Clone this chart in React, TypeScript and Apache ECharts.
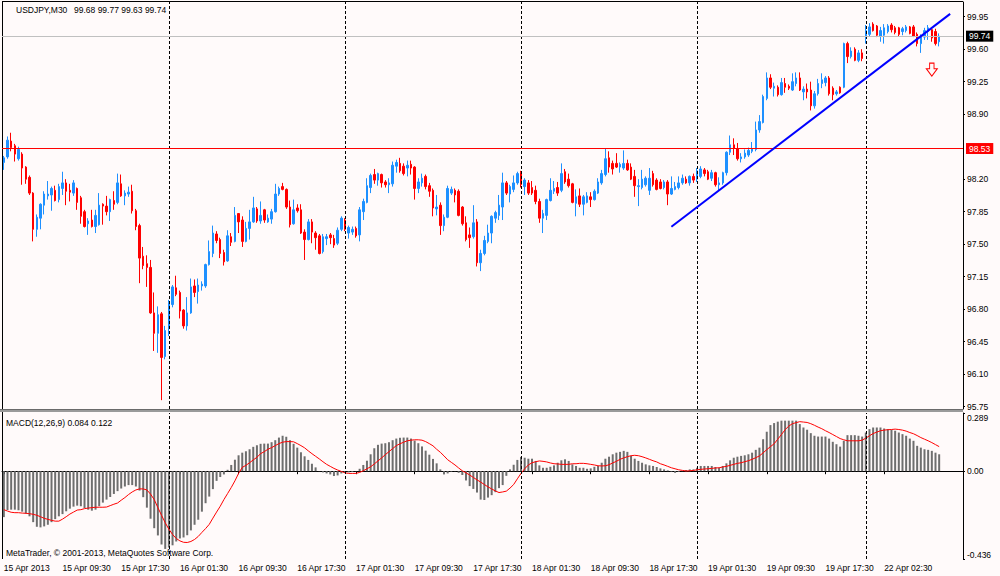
import React, { useEffect, useRef } from "react";
import * as echarts from "echarts";

// [open, high, low, close]
type OHLC = [number, number, number, number];

const SYMBOL = "USDJPY,M30";

const apr15: OHLC[] = [
  [98.38, 98.45, 98.30, 98.43], [98.44, 98.66, 98.42, 98.62], [98.61, 98.70, 98.50, 98.54], [98.56, 98.58, 98.39, 98.47],
  [98.42, 98.55, 98.40, 98.52], [98.47, 98.49, 98.14, 98.32], [98.33, 98.34, 98.15, 98.20], [98.22, 98.24, 98.03, 98.05],
  [98.05, 98.06, 97.53, 97.66], [97.66, 97.82, 97.58, 97.79], [97.78, 97.94, 97.66, 97.93], [97.92, 98.07, 97.82, 98.04],
  [98.02, 98.18, 97.98, 98.04], [98.03, 98.12, 97.86, 98.10], [98.08, 98.13, 97.96, 97.97], [97.98, 98.15, 97.95, 98.12],
  [98.10, 98.28, 98.03, 98.16], [98.16, 98.20, 97.92, 98.07], [98.08, 98.15, 97.96, 98.06], [98.05, 98.19, 98.02, 98.16],
  [98.10, 98.11, 97.87, 97.95], [98.00, 98.02, 97.72, 97.80], [97.85, 97.87, 97.68, 97.69], [97.72, 97.78, 97.60, 97.75],
  [97.76, 97.87, 97.68, 97.69], [97.69, 97.87, 97.62, 97.81], [97.71, 98.05, 97.70, 97.92], [97.93, 97.94, 97.71, 97.91],
  [97.91, 98.02, 97.81, 97.85], [97.85, 97.99, 97.75, 97.98], [97.97, 98.07, 97.87, 97.93], [97.95, 98.26, 97.93, 98.16],
  [98.15, 98.25, 98.01, 98.02], [98.02, 98.08, 97.92, 98.05], [98.04, 98.12, 98.01, 98.06], [98.07, 98.14, 97.83, 97.86],
  [97.86, 97.88, 97.65, 97.69], [97.70, 97.72, 97.08, 97.35], [97.37, 97.47, 97.23, 97.27], [97.29, 97.38, 97.04, 97.25],
  [97.25, 97.33, 96.75, 96.76], [96.76, 96.98, 96.35, 96.54], [96.54, 96.83, 96.33, 96.74], [96.75, 96.77, 95.82, 96.28],
  [96.29, 96.62, 96.26, 96.57],
];

const apr16: OHLC[] = [
  [96.59, 96.90, 96.51, 96.87], [96.85, 97.06, 96.82, 97.04], [97.03, 97.16, 96.94, 96.96], [96.98, 97.00, 96.70, 96.78],
  [96.79, 96.80, 96.59, 96.62], [96.62, 96.93, 96.57, 96.76], [96.76, 97.13, 96.75, 97.04], [97.05, 97.12, 96.93, 96.98],
  [96.99, 97.13, 96.86, 97.06], [97.05, 97.10, 97.00, 97.07], [97.05, 97.29, 97.03, 97.28], [97.28, 97.54, 97.27, 97.42],
  [97.40, 97.70, 97.36, 97.62], [97.61, 97.64, 97.51, 97.54], [97.55, 97.57, 97.35, 97.40], [97.41, 97.44, 97.27, 97.31],
  [97.32, 97.65, 97.31, 97.59], [97.58, 97.62, 97.48, 97.52], [97.53, 97.90, 97.52, 97.81], [97.83, 97.83, 97.62, 97.74],
  [97.76, 97.80, 97.47, 97.53], [97.53, 97.74, 97.52, 97.67], [97.67, 97.87, 97.55, 97.74], [97.74, 98.01, 97.73, 97.89],
  [97.88, 97.90, 97.73, 97.75], [97.75, 97.96, 97.72, 97.81], [97.87, 97.88, 97.73, 97.76], [97.74, 97.82, 97.73, 97.78],
  [97.77, 97.88, 97.72, 97.85], [97.85, 98.15, 97.84, 98.04], [98.04, 98.12, 98.02, 98.10], [98.12, 98.16, 98.08, 98.09],
  [98.09, 98.10, 97.88, 97.90], [97.90, 97.97, 97.68, 97.71], [97.72, 97.98, 97.71, 97.87], [97.89, 97.93, 97.84, 97.86],
  [97.87, 97.93, 97.61, 97.62], [97.63, 97.66, 97.33, 97.55], [97.55, 97.77, 97.54, 97.74], [97.74, 97.77, 97.51, 97.63],
  [97.62, 97.64, 97.44, 97.57], [97.59, 97.61, 97.39, 97.40], [97.42, 97.61, 97.40, 97.58], [97.56, 97.61, 97.49, 97.58],
  [97.60, 97.62, 97.50, 97.57], [97.56, 97.60, 97.46, 97.49], [97.51, 97.68, 97.49, 97.65], [97.66, 97.80, 97.64, 97.78],
];

const apr17: OHLC[] = [
  [97.76, 97.78, 97.64, 97.66], [97.62, 97.70, 97.56, 97.68], [97.63, 97.69, 97.60, 97.66], [97.67, 97.69, 97.57, 97.59],
  [97.60, 97.90, 97.53, 97.87], [97.85, 97.99, 97.76, 97.96], [97.95, 98.21, 97.94, 98.13], [98.11, 98.26, 98.05, 98.24],
  [98.25, 98.31, 98.15, 98.19], [98.19, 98.27, 98.13, 98.26], [98.25, 98.26, 98.11, 98.16], [98.17, 98.19, 98.11, 98.14],
  [98.14, 98.21, 98.05, 98.16], [98.15, 98.39, 98.12, 98.35], [98.34, 98.41, 98.27, 98.38], [98.37, 98.43, 98.27, 98.29],
  [98.34, 98.37, 98.24, 98.26], [98.32, 98.40, 98.23, 98.35], [98.36, 98.40, 98.25, 98.32], [98.33, 98.34, 97.98, 98.10],
  [98.10, 98.21, 98.05, 98.17], [98.16, 98.26, 98.12, 98.21], [98.23, 98.25, 98.09, 98.12], [98.13, 98.16, 98.01, 98.07],
  [98.08, 98.10, 97.80, 97.89], [97.88, 98.03, 97.81, 97.90], [97.92, 97.95, 97.60, 97.70], [97.70, 97.82, 97.64, 97.79],
  [97.79, 98.13, 97.78, 98.10], [98.05, 98.12, 98.03, 98.09], [98.08, 98.10, 97.95, 98.03], [98.07, 98.09, 97.80, 97.81],
  [97.90, 97.91, 97.70, 97.72], [97.73, 97.80, 97.53, 97.55], [97.60, 97.68, 97.46, 97.57], [97.58, 97.92, 97.56, 97.73],
  [97.74, 97.77, 97.26, 97.30], [97.30, 97.44, 97.21, 97.40], [97.40, 97.59, 97.38, 97.54], [97.53, 97.71, 97.51, 97.62],
  [97.62, 97.81, 97.51, 97.80], [97.78, 97.86, 97.73, 97.84], [97.81, 98.03, 97.76, 97.92], [97.90, 98.27, 97.76, 98.16],
  [98.16, 98.18, 98.03, 98.05], [98.04, 98.14, 97.95, 98.12], [98.09, 98.24, 98.06, 98.16], [98.16, 98.28, 98.14, 98.26],
];

const apr18: OHLC[] = [
  [98.27, 98.29, 98.11, 98.14], [98.12, 98.21, 98.03, 98.19], [98.16, 98.19, 98.03, 98.05], [98.11, 98.18, 98.03, 98.05],
  [98.08, 98.13, 97.93, 97.96], [97.96, 97.99, 97.73, 97.78], [97.78, 97.87, 97.62, 97.83], [97.81, 97.99, 97.76, 97.98],
  [97.97, 98.21, 97.96, 98.08], [98.07, 98.18, 98.04, 98.10], [98.11, 98.17, 98.02, 98.05], [98.08, 98.37, 98.06, 98.26],
  [98.28, 98.31, 98.15, 98.17], [98.20, 98.26, 98.11, 98.13], [98.15, 98.16, 97.94, 97.95], [97.94, 98.09, 97.80, 98.01],
  [98.02, 98.10, 97.90, 97.93], [97.93, 98.03, 97.81, 98.01], [97.95, 98.06, 97.94, 98.02], [98.01, 98.06, 97.90, 97.98],
  [97.98, 98.09, 97.97, 98.07], [98.05, 98.21, 98.04, 98.17], [98.16, 98.30, 98.14, 98.26], [98.25, 98.53, 98.23, 98.42],
  [98.43, 98.50, 98.27, 98.33], [98.37, 98.40, 98.25, 98.31], [98.37, 98.48, 98.32, 98.33], [98.33, 98.38, 98.27, 98.36],
  [98.32, 98.51, 98.30, 98.37], [98.37, 98.41, 98.29, 98.30], [98.33, 98.37, 98.19, 98.20], [98.23, 98.30, 98.01, 98.13],
  [98.12, 98.20, 97.91, 98.13], [98.11, 98.30, 98.09, 98.20], [98.14, 98.23, 98.12, 98.21], [98.08, 98.32, 98.03, 98.21],
  [98.26, 98.29, 98.12, 98.14], [98.19, 98.21, 98.08, 98.09], [98.17, 98.20, 98.09, 98.10], [98.11, 98.19, 98.09, 98.17],
  [98.17, 98.19, 97.92, 98.04], [98.04, 98.23, 98.03, 98.10], [98.09, 98.17, 98.08, 98.12], [98.11, 98.23, 98.09, 98.16],
  [98.16, 98.25, 98.14, 98.21], [98.20, 98.23, 98.15, 98.16], [98.16, 98.24, 98.13, 98.23], [98.23, 98.26, 98.16, 98.19],
];

const apr19: OHLC[] = [
  [98.20, 98.32, 98.17, 98.29], [98.23, 98.34, 98.21, 98.31], [98.30, 98.32, 98.23, 98.26], [98.28, 98.30, 98.19, 98.20],
  [98.21, 98.30, 98.18, 98.27], [98.27, 98.28, 98.12, 98.14], [98.14, 98.22, 98.08, 98.16], [98.16, 98.28, 98.14, 98.27],
  [98.27, 98.50, 98.24, 98.49], [98.49, 98.67, 98.46, 98.57], [98.57, 98.64, 98.46, 98.53], [98.53, 98.59, 98.40, 98.42],
  [98.42, 98.48, 98.38, 98.44], [98.44, 98.52, 98.42, 98.48], [98.46, 98.54, 98.44, 98.51], [98.50, 98.60, 98.48, 98.53],
  [98.52, 98.82, 98.50, 98.73], [98.73, 98.89, 98.70, 98.82], [98.81, 99.11, 98.80, 99.09], [99.07, 99.35, 99.05, 99.29],
  [99.29, 99.33, 99.17, 99.19], [99.18, 99.24, 99.09, 99.20], [99.19, 99.21, 99.09, 99.11], [99.11, 99.29, 99.10, 99.24],
  [99.23, 99.29, 99.13, 99.19], [99.20, 99.22, 99.16, 99.18], [99.16, 99.34, 99.15, 99.25], [99.23, 99.35, 99.20, 99.29],
  [99.29, 99.35, 99.15, 99.16], [99.14, 99.20, 99.05, 99.17], [99.17, 99.23, 99.07, 99.14], [99.16, 99.25, 98.94, 98.99],
  [98.99, 99.15, 98.96, 99.12], [99.12, 99.28, 99.10, 99.23], [99.23, 99.34, 99.18, 99.27], [99.24, 99.31, 99.20, 99.29],
  [99.29, 99.31, 99.10, 99.12], [99.18, 99.20, 99.05, 99.11], [99.12, 99.16, 99.10, 99.14], [99.19, 99.20, 99.12, 99.13],
  [99.19, 99.67, 99.18, 99.66], [99.66, 99.68, 99.45, 99.52], [99.52, 99.62, 99.50, 99.58], [99.60, 99.62, 99.47, 99.48],
  [99.48, 99.59, 99.46, 99.56], [99.56, 99.60, 99.47, 99.50],
];

const apr22: OHLC[] = [
  [99.72, 99.86, 99.66, 99.80], [99.76, 99.88, 99.74, 99.84], [99.87, 99.89, 99.79, 99.80], [99.85, 99.86, 99.73, 99.75],
  [99.74, 99.84, 99.68, 99.80], [99.75, 99.87, 99.66, 99.83], [99.79, 99.87, 99.77, 99.85], [99.86, 99.88, 99.78, 99.81],
  [99.83, 99.85, 99.76, 99.78], [99.83, 99.84, 99.74, 99.76], [99.79, 99.84, 99.75, 99.82], [99.80, 99.86, 99.78, 99.84],
  [99.84, 99.85, 99.76, 99.77], [99.84, 99.86, 99.73, 99.74], [99.76, 99.78, 99.63, 99.66], [99.66, 99.76, 99.56, 99.74],
  [99.73, 99.83, 99.70, 99.80], [99.79, 99.86, 99.70, 99.83], [99.81, 99.83, 99.68, 99.72], [99.79, 99.82, 99.64, 99.66],
  [99.68, 99.77, 99.63, 99.74],
];

// MACD(12,26,9): main (histogram) and signal, read per bar
const macdMain: number[] = [
  -0.228, -0.193, -0.191, -0.191, -0.194, -0.201, -0.211, -0.224, -0.253, -0.276,
  -0.279, -0.274, -0.266, -0.253, -0.238, -0.224, -0.213, -0.199, -0.186, -0.176,
  -0.171, -0.174, -0.183, -0.191, -0.196, -0.191, -0.174, -0.156, -0.141, -0.128,
  -0.113, -0.099, -0.086, -0.076, -0.069, -0.069, -0.076, -0.096, -0.129, -0.181,
  -0.236, -0.283, -0.319, -0.364, -0.386,
  -0.379, -0.368, -0.349, -0.334, -0.329, -0.318, -0.294, -0.266, -0.241, -0.201,
  -0.159, -0.126, -0.089, -0.048, -0.029, -0.016, 0.007, 0.031, 0.057, 0.079,
  0.092, 0.099, 0.109, 0.121, 0.129, 0.136, 0.137, 0.137, 0.144, 0.154,
  0.167, 0.176, 0.171, 0.154, 0.136, 0.117, 0.094, 0.074, 0.056, 0.037,
  0.019, 0.001, -0.006, -0.011, -0.016, -0.024, -0.021, -0.011,
  -0.008, -0.006, -0.004, -0.001, 0.012, 0.031, 0.052, 0.084, 0.114, 0.131,
  0.137, 0.139, 0.144, 0.154, 0.162, 0.166, 0.167, 0.167, 0.162, 0.152,
  0.139, 0.123, 0.102, 0.082, 0.061, 0.039, 0.009, -0.016, -0.011, -0.003,
  -0.001, -0.008, -0.019, -0.046, -0.074, -0.088, -0.106, -0.141, -0.143, -0.131,
  -0.119, -0.104, -0.084, -0.069, -0.023, 0.009, 0.032, 0.056,
  0.071, 0.067, 0.062, 0.062, 0.051, 0.029, 0.017, 0.017, 0.022, 0.029,
  0.042, 0.054, 0.059, 0.051, 0.034, 0.026, 0.017, 0.017, 0.012, 0.014,
  0.022, 0.026, 0.042, 0.062, 0.072, 0.084, 0.092, 0.096, 0.101, 0.096,
  0.076, 0.062, 0.051, 0.042, 0.034, 0.029, 0.026, 0.021, 0.014, 0.009,
  0.004, -0.003, -0.008, -0.004, 0.001, 0.006, 0.009, 0.009,
  0.017, 0.026, 0.026, 0.026, 0.026, 0.021, 0.017, 0.026, 0.039, 0.054,
  0.067, 0.072, 0.076, 0.079, 0.084, 0.092, 0.106, 0.117, 0.159, 0.196,
  0.229, 0.239, 0.246, 0.251, 0.251, 0.251, 0.251, 0.251, 0.234, 0.217,
  0.206, 0.189, 0.176, 0.172, 0.172, 0.172, 0.162, 0.146, 0.134, 0.122,
  0.151, 0.179, 0.179, 0.179, 0.176, 0.172,
  0.192, 0.209, 0.217, 0.217, 0.217, 0.212, 0.209, 0.206, 0.201, 0.192,
  0.184, 0.176, 0.162, 0.151, 0.126, 0.117, 0.109, 0.106, 0.101, 0.092, 0.084,
];

const macdSignal: number[] = [
  -0.191, -0.198, -0.204, -0.206, -0.206, -0.208, -0.209, -0.211, -0.214, -0.219,
  -0.226, -0.234, -0.239, -0.244, -0.248, -0.248, -0.238, -0.226, -0.213, -0.203,
  -0.193, -0.191, -0.186, -0.183, -0.181, -0.179, -0.179, -0.179, -0.178, -0.171,
  -0.164, -0.158, -0.144, -0.131, -0.116, -0.103, -0.093, -0.088, -0.088, -0.093,
  -0.114, -0.141, -0.181, -0.219, -0.256,
  -0.288, -0.314, -0.334, -0.346, -0.353, -0.354, -0.349, -0.339, -0.324, -0.304,
  -0.285, -0.264, -0.233, -0.203, -0.174, -0.141, -0.111, -0.081, -0.048, -0.011,
  0.019, 0.029, 0.042, 0.056, 0.069, 0.087, 0.097, 0.109, 0.117, 0.127,
  0.137, 0.144, 0.147, 0.147, 0.146, 0.137, 0.127, 0.116, 0.101, 0.087,
  0.074, 0.061, 0.047, 0.034, 0.024, 0.014, 0.006, -0.001,
  -0.008, -0.011, -0.011, -0.011, -0.006, 0.002, 0.012, 0.022, 0.036, 0.051,
  0.066, 0.082, 0.097, 0.112, 0.127, 0.136, 0.144, 0.151, 0.154, 0.156,
  0.156, 0.154, 0.147, 0.137, 0.126, 0.109, 0.094, 0.076, 0.057, 0.044,
  0.031, 0.016, 0.002, -0.008, -0.019, -0.031, -0.043, -0.054, -0.066, -0.078,
  -0.088, -0.098, -0.106, -0.103, -0.099, -0.084, -0.066, -0.038,
  -0.011, 0.012, 0.031, 0.042, 0.047, 0.051, 0.049, 0.046, 0.041, 0.037,
  0.036, 0.034, 0.034, 0.034, 0.037, 0.037, 0.039, 0.039, 0.037, 0.034,
  0.031, 0.027, 0.026, 0.027, 0.032, 0.041, 0.049, 0.059, 0.066, 0.072,
  0.077, 0.079, 0.077, 0.072, 0.066, 0.059, 0.052, 0.046, 0.037, 0.031,
  0.024, 0.017, 0.012, 0.007, 0.004, 0.001, 0.002, 0.004,
  0.007, 0.009, 0.011, 0.012, 0.014, 0.016, 0.017, 0.021, 0.024, 0.029,
  0.034, 0.039, 0.042, 0.047, 0.052, 0.059, 0.067, 0.076, 0.091, 0.107,
  0.122, 0.136, 0.159, 0.182, 0.206, 0.224, 0.236, 0.241, 0.246, 0.244,
  0.242, 0.236, 0.228, 0.219, 0.211, 0.201, 0.192, 0.182, 0.172, 0.162,
  0.156, 0.151, 0.151, 0.151, 0.151, 0.154,
  0.164, 0.176, 0.187, 0.194, 0.201, 0.204, 0.206, 0.207, 0.209, 0.207,
  0.204, 0.199, 0.192, 0.186, 0.177, 0.167, 0.159, 0.151, 0.142, 0.132, 0.122,
];

const TICK_LABELS = [
  "15 Apr 2013", "15 Apr 09:30", "15 Apr 17:30", "16 Apr 01:30", "16 Apr 09:30", "16 Apr 17:30",
  "17 Apr 01:30", "17 Apr 09:30", "17 Apr 17:30", "18 Apr 01:30", "18 Apr 09:30", "18 Apr 17:30",
  "19 Apr 01:30", "19 Apr 09:30", "19 Apr 17:30", "22 Apr 02:30",
];
const TICK_STEP = 16; // bars between time labels
const DAY_BREAKS = [45, 93, 141, 189, 235]; // bar index of each new day
const PRICE_TICKS = [95.75, 96.10, 96.45, 96.80, 97.15, 97.50, 97.85, 98.20, 98.90, 99.25, 99.60, 99.95];
const MACD_TICKS = [-0.436, 0, 0.289];
const LEVEL_LINE = 98.53;
const TREND_LINE: [number, number][] = [[182, 97.687], [258, 99.98]];
const ARROW_POINT: [number, number] = [253, 99.38];
const SLOT_COUNT = 262; // visible bar slots incl. right shift

const FONT = "'Liberation Sans', Arial, sans-serif";

export default function App() {
  const ref = useRef<HTMLDivElement | null>(null);

  useEffect(() => {
    if (!ref.current) return;
    const chart = echarts.init(ref.current, undefined, { renderer: "svg" });

    const candles = [...apr15, ...apr16, ...apr17, ...apr18, ...apr19, ...apr22];
    const candleData = candles.map(([o, h, l, c]) => [o, c, l, h]);
    const last = candles[candles.length - 1];
    const bid = last[3];
    const cats = Array.from({ length: SLOT_COUNT }, (_, i) => String(i));
    const showTick = (i: number) => i % TICK_STEP === 0 && i / TICK_STEP < TICK_LABELS.length;

    const sepLine = { color: "#000", type: [3, 2] as number[], width: 1 };
    const fmt2 = (v: number) => v.toFixed(2);

    const option: any = {
      animation: false,
      backgroundColor: "#FFFAFA",
      textStyle: { fontFamily: FONT, fontSize: 8.5, color: "#000" },
      grid: [
        { left: 2, top: 2, width: 961, height: 407 },
        { left: 2, top: 413, width: 961, height: 146 },
      ],
      xAxis: [
        { type: "category", gridIndex: 0, data: cats, boundaryGap: true, show: false },
        {
          type: "category",
          gridIndex: 1,
          data: cats,
          boundaryGap: true,
          axisLine: { show: true, lineStyle: { color: "#000", width: 1 } },
          axisTick: {
            show: true,
            alignWithLabel: true,
            interval: (i: number) => showTick(i),
            length: 3,
            lineStyle: { color: "#000" },
          },
          axisLabel: {
            interval: (i: number) => showTick(i),
            formatter: (v: string) => TICK_LABELS[Number(v) / TICK_STEP] ?? "",
            align: "left",
            margin: 4,
            color: "#000",
            fontSize: 8.5,
            fontFamily: FONT,
          },
          splitLine: { show: false },
        },
      ],
      yAxis: [
        {
          type: "value",
          gridIndex: 0,
          position: "right",
          min: 95.725,
          max: 100.108,
          axisLine: { show: true, lineStyle: { color: "#000", width: 1 } },
          axisTick: { show: true, length: 2, customValues: PRICE_TICKS, lineStyle: { color: "#000" } },
          axisLabel: {
            customValues: PRICE_TICKS,
            formatter: fmt2,
            margin: 4,
            color: "#000",
            fontSize: 8.5,
            fontFamily: FONT,
          },
          splitLine: { show: false },
        },
        {
          type: "value",
          gridIndex: 1,
          position: "right",
          min: -0.436,
          max: 0.289,
          axisLine: { show: true, lineStyle: { color: "#000", width: 1 } },
          axisTick: { show: true, length: 2, customValues: MACD_TICKS, lineStyle: { color: "#000" } },
          axisLabel: {
            customValues: MACD_TICKS,
            formatter: (v: number) => (Math.abs(v) < 1e-9 ? "0.00" : v.toFixed(3)),
            margin: 4,
            color: "#000",
            fontSize: 8.5,
            fontFamily: FONT,
            verticalAlignMinLabel: "bottom",
            verticalAlignMaxLabel: "top",
          },
          splitLine: { show: false },
        },
      ],
      series: [
        {
          type: "candlestick",
          xAxisIndex: 0,
          yAxisIndex: 0,
          data: candleData,
          barWidth: 2,
          clip: false,
          itemStyle: {
            color: "#1E90FF",
            color0: "#FF0000",
            borderColor: "#1E90FF",
            borderColor0: "#FF0000",
            borderWidth: 1,
          },
          markLine: {
            silent: true,
            symbol: ["none", "none"],
            animation: false,
            data: [
              ...DAY_BREAKS.map((x) => ({ xAxis: x, lineStyle: sepLine, label: { show: false } })),
              {
                yAxis: bid,
                lineStyle: { color: "#C0C0C0", type: "solid", width: 1 },
                label: {
                  show: true,
                  position: "end",
                  distance: 3,
                  formatter: fmt2(bid),
                  color: "#fff",
                  backgroundColor: "#000",
                  padding: [1, 3, 1, 3],
                  fontSize: 8.5,
                  fontFamily: FONT,
                },
              },
              {
                yAxis: LEVEL_LINE,
                lineStyle: { color: "#FF0000", type: "solid", width: 1 },
                label: {
                  show: true,
                  position: "end",
                  distance: 3,
                  formatter: fmt2(LEVEL_LINE),
                  color: "#fff",
                  backgroundColor: "#FF0000",
                  padding: [1, 3, 1, 3],
                  fontSize: 8.5,
                  fontFamily: FONT,
                },
              },
              [
                { coord: TREND_LINE[0], lineStyle: { color: "#0000FF", type: "solid", width: 2 }, label: { show: false } },
                { coord: TREND_LINE[1] },
              ],
            ],
          },
          markPoint: {
            silent: true,
            animation: false,
            data: [
              {
                coord: ARROW_POINT,
                symbol: "path://M3.3,0 L7.7,0 L7.7,5.6 L11,5.6 L5.5,13 L0,5.6 L3.3,5.6 Z",
                symbolSize: [11, 13],
                itemStyle: { color: "#FFFAFA", borderColor: "#FF0000", borderWidth: 1 },
                label: { show: false },
              },
            ],
          },
        },
        {
          type: "bar",
          xAxisIndex: 1,
          yAxisIndex: 1,
          data: macdMain,
          barWidth: 2,
          itemStyle: { color: "#6E6E6E" },
          markLine: {
            silent: true,
            symbol: ["none", "none"],
            animation: false,
            data: DAY_BREAKS.map((x) => ({ xAxis: x, lineStyle: sepLine, label: { show: false } })),
          },
        },
        {
          type: "line",
          xAxisIndex: 1,
          yAxisIndex: 1,
          data: macdSignal,
          symbol: "none",
          z: 3,
          lineStyle: { color: "#FF0000", width: 1 },
        },
      ],
      graphic: [
        { type: "line", shape: { x1: 2.5, y1: 1, x2: 2.5, y2: 559 }, style: { stroke: "#000", lineWidth: 1 }, silent: true },
        { type: "line", shape: { x1: 2, y1: 1.5, x2: 963, y2: 1.5 }, style: { stroke: "#000", lineWidth: 1 }, silent: true },
        { type: "rect", shape: { x: 0, y: 409, width: 963, height: 3 }, style: { fill: "#9A9A9A" }, silent: true },
        { type: "line", shape: { x1: 0, y1: 409.5, x2: 963, y2: 409.5 }, style: { stroke: "#6A6A6A", lineWidth: 1 }, silent: true },
        {
          type: "text",
          x: 16,
          y: 9.5,
          silent: true,
          style: { text: SYMBOL, fill: "#000", fontSize: 8.5, fontFamily: FONT, verticalAlign: "middle" },
        },
        {
          type: "text",
          x: 74,
          y: 9.5,
          silent: true,
          style: {
            text: last.map(fmt2).join(" "),
            fill: "#000",
            fontSize: 8.5,
            fontFamily: FONT,
            verticalAlign: "middle",
          },
        },
        {
          type: "text",
          x: 6,
          y: 422.5,
          silent: true,
          style: {
            text: `MACD(12,26,9) ${macdMain[macdMain.length - 1].toFixed(3)} ${macdSignal[macdSignal.length - 1].toFixed(3)}`,
            fill: "#000",
            fontSize: 8.5,
            fontFamily: FONT,
            verticalAlign: "middle",
          },
        },
        {
          type: "text",
          x: 6,
          y: 553,
          silent: true,
          style: {
            text: "MetaTrader, © 2001-2013, MetaQuotes Software Corp.",
            fill: "#000",
            fontSize: 8.5,
            fontFamily: FONT,
            verticalAlign: "middle",
          },
        },
      ],
    };

    chart.setOption(option);
    return () => chart.dispose();
  }, []);

  return (
    <div
      ref={ref}
      style={{ position: "absolute", left: 0, top: 0, width: 1000, height: 576, background: "#FFFAFA" }}
    />
  );
}
